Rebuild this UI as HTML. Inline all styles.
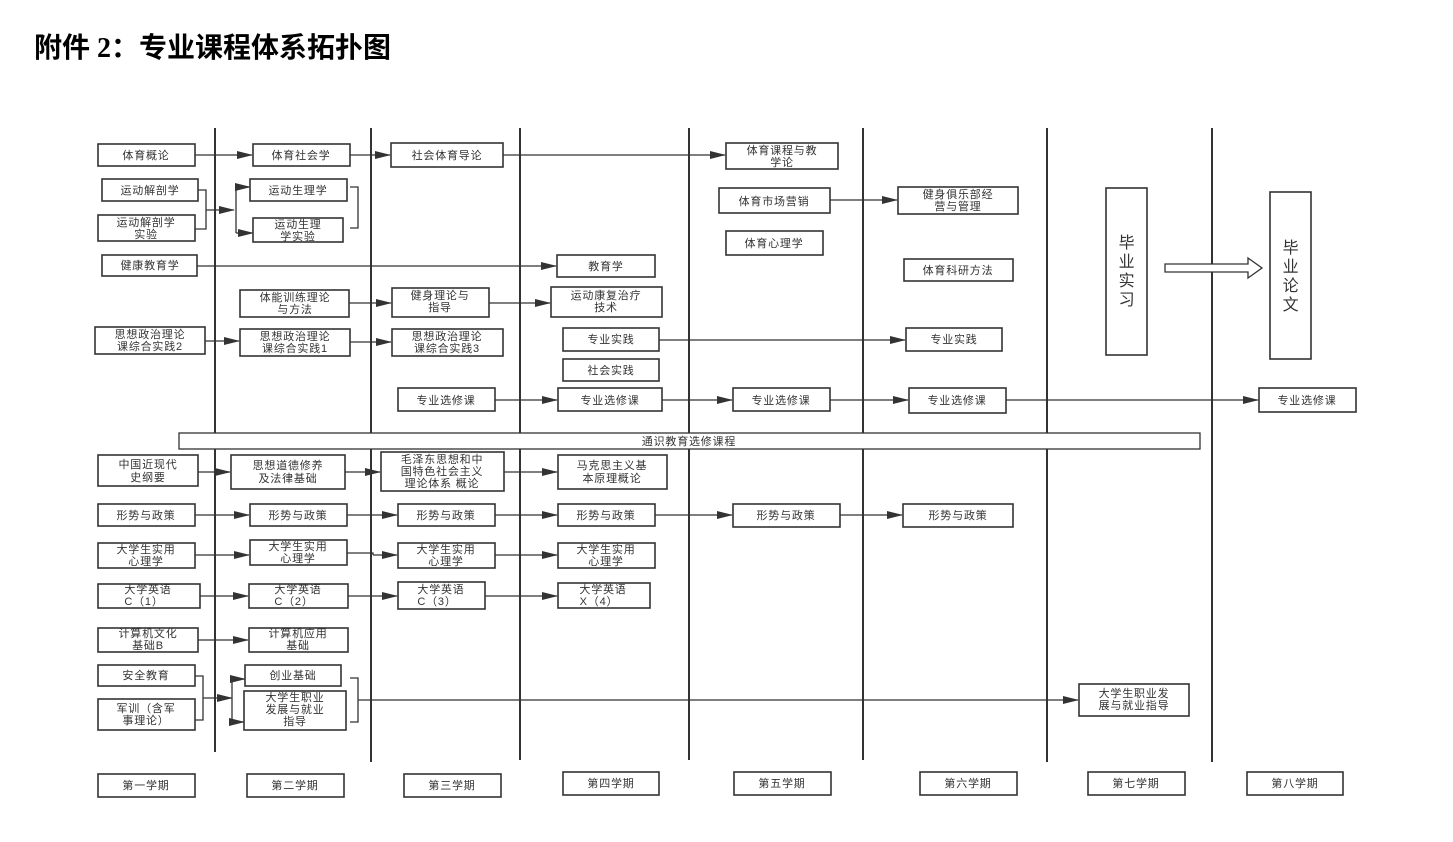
<!DOCTYPE html>
<html><head><meta charset="utf-8"><style>
html,body{margin:0;padding:0;background:#fff;width:1453px;height:842px;overflow:hidden}
svg{display:block}
text{font-family:"Liberation Sans","Noto Sans CJK SC",sans-serif;font-size:11px;fill:#333;text-anchor:middle;letter-spacing:0.8px}
rect{fill:#fff;stroke:#333;stroke-width:1.6}
line,polyline{stroke:#333;stroke-width:1.3;fill:none}
.v{stroke:#333;stroke-width:2}
</style></head><body>
<svg width="1453" height="842" viewBox="0 0 1453 842">
<defs><marker id="a" markerWidth="16" markerHeight="8" refX="15" refY="4" orient="auto" markerUnits="userSpaceOnUse"><path d="M0,0 L16,4 L0,8 z" fill="#333"/></marker></defs>
<text x="34" y="57" style="font-family:'Liberation Serif','Noto Sans CJK SC',sans-serif;font-size:28px;font-weight:bold;fill:#000;text-anchor:start;letter-spacing:0">附件 2：专业课程体系拓扑图</text>

<line class="v" x1="215" y1="128" x2="215" y2="752"/>
<line class="v" x1="371" y1="128" x2="371" y2="762"/>
<line class="v" x1="520" y1="128" x2="520" y2="760"/>
<line class="v" x1="689" y1="128" x2="689" y2="760"/>
<line class="v" x1="863" y1="128" x2="863" y2="760"/>
<line class="v" x1="1047" y1="128" x2="1047" y2="762"/>
<line class="v" x1="1212" y1="128" x2="1212" y2="762"/>

<line x1="195" y1="155" x2="252" y2="155" marker-end="url(#a)"/>
<line x1="350" y1="155" x2="390" y2="155" marker-end="url(#a)"/>
<line x1="503" y1="155" x2="725" y2="155" marker-end="url(#a)"/>
<polyline points="198,190 206,190 206,229 195,229"/>
<line x1="206" y1="210" x2="234" y2="210" marker-end="url(#a)"/>
<polyline points="236,187 236,233"/>
<line x1="236" y1="187" x2="250" y2="187" marker-end="url(#a)"/>
<line x1="236" y1="233" x2="253" y2="233" marker-end="url(#a)"/>
<polyline points="350,187 358,187 358,228 350,228"/>
<line x1="197" y1="266" x2="556" y2="266" marker-end="url(#a)"/>
<line x1="349" y1="303" x2="391" y2="303" marker-end="url(#a)"/>
<line x1="489" y1="303" x2="550" y2="303" marker-end="url(#a)"/>
<line x1="205" y1="341" x2="239" y2="341" marker-end="url(#a)"/>
<line x1="350" y1="342" x2="391" y2="342" marker-end="url(#a)"/>
<line x1="659" y1="340" x2="905" y2="340" marker-end="url(#a)"/>
<line x1="495" y1="400" x2="557" y2="400" marker-end="url(#a)"/>
<line x1="662" y1="400" x2="732" y2="400" marker-end="url(#a)"/>
<line x1="830" y1="400" x2="908" y2="400" marker-end="url(#a)"/>
<line x1="1006" y1="400" x2="1258" y2="400" marker-end="url(#a)"/>
<line x1="830" y1="200" x2="897" y2="200" marker-end="url(#a)"/>
<line x1="198" y1="472" x2="230" y2="472" marker-end="url(#a)"/>
<line x1="345" y1="472" x2="380" y2="472" marker-end="url(#a)"/>
<line x1="504" y1="472" x2="557" y2="472" marker-end="url(#a)"/>
<line x1="195" y1="515" x2="249" y2="515" marker-end="url(#a)"/>
<line x1="347" y1="515" x2="397" y2="515" marker-end="url(#a)"/>
<line x1="495" y1="515" x2="557" y2="515" marker-end="url(#a)"/>
<line x1="655" y1="515" x2="732" y2="515" marker-end="url(#a)"/>
<line x1="840" y1="515" x2="902" y2="515" marker-end="url(#a)"/>
<line x1="195" y1="555" x2="249" y2="555" marker-end="url(#a)"/>
<polyline points="347,553 373,553 373,555"/>
<line x1="373" y1="555" x2="397" y2="555" marker-end="url(#a)"/>
<line x1="495" y1="555" x2="557" y2="555" marker-end="url(#a)"/>
<line x1="200" y1="596" x2="248" y2="596" marker-end="url(#a)"/>
<line x1="348" y1="596" x2="397" y2="596" marker-end="url(#a)"/>
<line x1="485" y1="596" x2="557" y2="596" marker-end="url(#a)"/>
<line x1="198" y1="640" x2="248" y2="640" marker-end="url(#a)"/>
<polyline points="195,676 203,676 203,720 195,720"/>
<line x1="203" y1="698" x2="232" y2="698" marker-end="url(#a)"/>
<polyline points="232,679 232,722"/>
<line x1="232" y1="679" x2="245" y2="679" marker-end="url(#a)"/>
<line x1="232" y1="722" x2="244" y2="722" marker-end="url(#a)"/>
<polyline points="350,678 358,678 358,722 350,722"/>
<line x1="358" y1="700" x2="1078" y2="700" marker-end="url(#a)"/>
<path d="M1165,264 L1248,264 L1248,258 L1262,268 L1248,278 L1248,272 L1165,272 z" fill="#fff" stroke="#333" stroke-width="1.3"/>

<g>
<rect x="98" y="144" width="97" height="22"/><text x="146" y="159">体育概论</text>
<rect x="253" y="144" width="97" height="22"/><text x="301" y="159">体育社会学</text>
<rect x="391" y="143" width="112" height="24"/><text x="447" y="159">社会体育导论</text>
<rect x="726" y="143" width="112" height="26"/><text x="782" y="154">体育课程与教</text><text x="782" y="166">学论</text>
<rect x="102" y="179" width="96" height="22"/><text x="150" y="194">运动解剖学</text>
<rect x="98" y="215" width="97" height="26"/><text x="146" y="226">运动解剖学</text><text x="146" y="238">实验</text>
<rect x="250" y="179" width="97" height="22"/><text x="298" y="194">运动生理学</text>
<rect x="253" y="218" width="90" height="24"/><text x="298" y="228">运动生理</text><text x="298" y="240">学实验</text>
<rect x="719" y="188" width="111" height="25"/><text x="774" y="205">体育市场营销</text>
<rect x="898" y="187" width="120" height="27"/><text x="958" y="198">健身俱乐部经</text><text x="958" y="210">营与管理</text>
<rect x="726" y="231" width="97" height="24"/><text x="774" y="247">体育心理学</text>
<rect x="102" y="255" width="95" height="21"/><text x="150" y="269">健康教育学</text>
<rect x="557" y="255" width="98" height="22"/><text x="606" y="270">教育学</text>
<rect x="904" y="259" width="109" height="22"/><text x="958" y="274">体育科研方法</text>
<rect x="240" y="290" width="109" height="27"/><text x="295" y="301">体能训练理论</text><text x="295" y="313">与方法</text>
<rect x="392" y="288" width="97" height="29"/><text x="440" y="299">健身理论与</text><text x="440" y="311">指导</text>
<rect x="551" y="287" width="111" height="30"/><text x="606" y="299">运动康复治疗</text><text x="606" y="311">技术</text>
<rect x="95" y="327" width="110" height="27"/><text x="150" y="338">思想政治理论</text><text x="150" y="350">课综合实践2</text>
<rect x="240" y="329" width="110" height="27"/><text x="295" y="340">思想政治理论</text><text x="295" y="352">课综合实践1</text>
<rect x="392" y="329" width="111" height="27"/><text x="447" y="340">思想政治理论</text><text x="447" y="352">课综合实践3</text>
<rect x="563" y="328" width="96" height="23"/><text x="611" y="343">专业实践</text>
<rect x="906" y="328" width="96" height="23"/><text x="954" y="343">专业实践</text>
<rect x="563" y="359" width="96" height="22"/><text x="611" y="374">社会实践</text>
<rect x="398" y="388" width="97" height="23"/><text x="446" y="404">专业选修课</text>
<rect x="558" y="388" width="104" height="23"/><text x="610" y="404">专业选修课</text>
<rect x="733" y="388" width="97" height="23"/><text x="781" y="404">专业选修课</text>
<rect x="909" y="388" width="97" height="25"/><text x="957" y="404">专业选修课</text>
<rect x="1259" y="388" width="97" height="24"/><text x="1307" y="404">专业选修课</text>
<rect x="179" y="433" width="1021" height="16" style="stroke-width:1.3"/><text x="689" y="445">通识教育选修课程</text>
<rect x="98" y="455" width="100" height="31"/><text x="148" y="468">中国近现代</text><text x="148" y="481">史纲要</text>
<rect x="231" y="455" width="114" height="34"/><text x="288" y="469">思想道德修养</text><text x="288" y="482">及法律基础</text>
<rect x="381" y="452" width="123" height="39"/><text x="442" y="463">毛泽东思想和中</text><text x="442" y="475">国特色社会主义</text><text x="442" y="487">理论体系  概论</text>
<rect x="558" y="455" width="109" height="34"/><text x="612" y="469">马克思主义基</text><text x="612" y="482">本原理概论</text>
<rect x="98" y="504" width="97" height="22"/><text x="146" y="519">形势与政策</text>
<rect x="250" y="504" width="97" height="22"/><text x="298" y="519">形势与政策</text>
<rect x="398" y="504" width="97" height="22"/><text x="446" y="519">形势与政策</text>
<rect x="558" y="504" width="97" height="22"/><text x="606" y="519">形势与政策</text>
<rect x="733" y="504" width="107" height="23"/><text x="786" y="519">形势与政策</text>
<rect x="903" y="504" width="110" height="23"/><text x="958" y="519">形势与政策</text>
<rect x="98" y="543" width="97" height="25"/><text x="146" y="553">大学生实用</text><text x="146" y="565">心理学</text>
<rect x="250" y="540" width="97" height="25"/><text x="298" y="550">大学生实用</text><text x="298" y="562">心理学</text>
<rect x="398" y="543" width="97" height="25"/><text x="446" y="553">大学生实用</text><text x="446" y="565">心理学</text>
<rect x="558" y="543" width="97" height="25"/><text x="606" y="553">大学生实用</text><text x="606" y="565">心理学</text>
<rect x="98" y="584" width="102" height="24"/><text x="148" y="593">大学英语</text><text x="144" y="605">C（1）</text>
<rect x="249" y="584" width="99" height="24"/><text x="298" y="593">大学英语</text><text x="294" y="605">C（2）</text>
<rect x="398" y="582" width="87" height="27"/><text x="441" y="593">大学英语</text><text x="437" y="605">C（3）</text>
<rect x="558" y="583" width="92" height="25"/><text x="603" y="593">大学英语</text><text x="599" y="605">X（4）</text>
<rect x="98" y="628" width="100" height="24"/><text x="148" y="637">计算机文化</text><text x="148" y="649">基础B</text>
<rect x="249" y="628" width="99" height="24"/><text x="298" y="637">计算机应用</text><text x="298" y="649">基础</text>
<rect x="98" y="665" width="97" height="21"/><text x="146" y="679">安全教育</text>
<rect x="98" y="699" width="97" height="31"/><text x="146" y="712">军训（含军</text><text x="146" y="724">事理论）</text>
<rect x="245" y="665" width="96" height="21"/><text x="293" y="679">创业基础</text>
<rect x="244" y="691" width="102" height="39"/><text x="295" y="701">大学生职业</text><text x="295" y="713">发展与就业</text><text x="295" y="725">指导</text>
<rect x="1079" y="684" width="110" height="32"/><text x="1134" y="697">大学生职业发</text><text x="1134" y="709">展与就业指导</text>
<rect x="1106" y="188" width="41" height="167"/>
<text x="1127" y="248" style="font-size:16px">毕</text><text x="1127" y="267" style="font-size:16px">业</text><text x="1127" y="286" style="font-size:16px">实</text><text x="1127" y="305" style="font-size:16px">习</text>
<rect x="1270" y="192" width="41" height="167"/>
<text x="1291" y="253" style="font-size:16px">毕</text><text x="1291" y="272" style="font-size:16px">业</text><text x="1291" y="291" style="font-size:16px">论</text><text x="1291" y="310" style="font-size:16px">文</text>
<rect x="98" y="774" width="97" height="23"/><text x="146" y="789">第一学期</text>
<rect x="247" y="774" width="97" height="23"/><text x="295" y="789">第二学期</text>
<rect x="404" y="774" width="97" height="23"/><text x="452" y="789">第三学期</text>
<rect x="563" y="772" width="96" height="23"/><text x="611" y="787">第四学期</text>
<rect x="734" y="772" width="97" height="23"/><text x="782" y="787">第五学期</text>
<rect x="920" y="772" width="97" height="23"/><text x="968" y="787">第六学期</text>
<rect x="1088" y="772" width="97" height="23"/><text x="1136" y="787">第七学期</text>
<rect x="1247" y="772" width="96" height="23"/><text x="1295" y="787">第八学期</text>
</g>
</svg>
</body></html>
